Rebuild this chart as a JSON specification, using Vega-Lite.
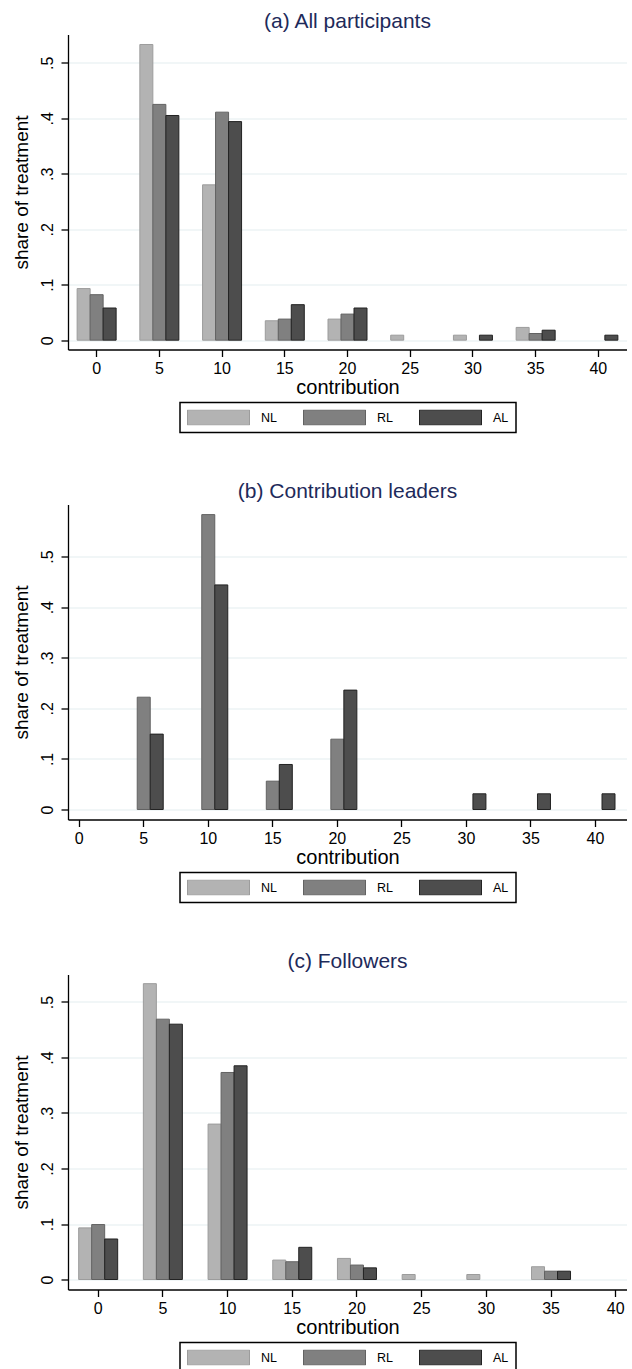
{
  "$schema": "https://vega.github.io/schema/vega-lite/v6.json",
  "background": "white",
  "padding": {"left": 11, "top": 10.5, "right": 0, "bottom": 0},
  "spacing": 47,
  "data": {"values": [
    {"panel":"a","contribution":0,"treatment":"NL","share":0.093},
    {"panel":"a","contribution":5,"treatment":"NL","share":0.533},
    {"panel":"a","contribution":10,"treatment":"NL","share":0.280},
    {"panel":"a","contribution":15,"treatment":"NL","share":0.035},
    {"panel":"a","contribution":20,"treatment":"NL","share":0.038},
    {"panel":"a","contribution":25,"treatment":"NL","share":0.009},
    {"panel":"a","contribution":30,"treatment":"NL","share":0.009},
    {"panel":"a","contribution":35,"treatment":"NL","share":0.023},
    {"panel":"a","contribution":0,"treatment":"RL","share":0.082},
    {"panel":"a","contribution":5,"treatment":"RL","share":0.425},
    {"panel":"a","contribution":10,"treatment":"RL","share":0.411},
    {"panel":"a","contribution":15,"treatment":"RL","share":0.038},
    {"panel":"a","contribution":20,"treatment":"RL","share":0.047},
    {"panel":"a","contribution":35,"treatment":"RL","share":0.012},
    {"panel":"a","contribution":0,"treatment":"AL","share":0.058},
    {"panel":"a","contribution":5,"treatment":"AL","share":0.405},
    {"panel":"a","contribution":10,"treatment":"AL","share":0.394},
    {"panel":"a","contribution":15,"treatment":"AL","share":0.064},
    {"panel":"a","contribution":20,"treatment":"AL","share":0.058},
    {"panel":"a","contribution":30,"treatment":"AL","share":0.009},
    {"panel":"a","contribution":35,"treatment":"AL","share":0.018},
    {"panel":"a","contribution":40,"treatment":"AL","share":0.009},
    {"panel":"b","contribution":5,"treatment":"RL","share":0.222},
    {"panel":"b","contribution":10,"treatment":"RL","share":0.583},
    {"panel":"b","contribution":15,"treatment":"RL","share":0.056},
    {"panel":"b","contribution":20,"treatment":"RL","share":0.139},
    {"panel":"b","contribution":5,"treatment":"AL","share":0.149},
    {"panel":"b","contribution":10,"treatment":"AL","share":0.444},
    {"panel":"b","contribution":15,"treatment":"AL","share":0.089},
    {"panel":"b","contribution":20,"treatment":"AL","share":0.236},
    {"panel":"b","contribution":30,"treatment":"AL","share":0.031},
    {"panel":"b","contribution":35,"treatment":"AL","share":0.031},
    {"panel":"b","contribution":40,"treatment":"AL","share":0.031},
    {"panel":"c","contribution":0,"treatment":"NL","share":0.093},
    {"panel":"c","contribution":5,"treatment":"NL","share":0.533},
    {"panel":"c","contribution":10,"treatment":"NL","share":0.280},
    {"panel":"c","contribution":15,"treatment":"NL","share":0.035},
    {"panel":"c","contribution":20,"treatment":"NL","share":0.038},
    {"panel":"c","contribution":25,"treatment":"NL","share":0.009},
    {"panel":"c","contribution":30,"treatment":"NL","share":0.009},
    {"panel":"c","contribution":35,"treatment":"NL","share":0.023},
    {"panel":"c","contribution":0,"treatment":"RL","share":0.099},
    {"panel":"c","contribution":5,"treatment":"RL","share":0.469},
    {"panel":"c","contribution":10,"treatment":"RL","share":0.373},
    {"panel":"c","contribution":15,"treatment":"RL","share":0.032},
    {"panel":"c","contribution":20,"treatment":"RL","share":0.026},
    {"panel":"c","contribution":35,"treatment":"RL","share":0.015},
    {"panel":"c","contribution":0,"treatment":"AL","share":0.073},
    {"panel":"c","contribution":5,"treatment":"AL","share":0.460},
    {"panel":"c","contribution":10,"treatment":"AL","share":0.385},
    {"panel":"c","contribution":15,"treatment":"AL","share":0.058},
    {"panel":"c","contribution":20,"treatment":"AL","share":0.021},
    {"panel":"c","contribution":35,"treatment":"AL","share":0.015}
  ]},
  "resolve": {"scale": {"fill": "independent", "stroke": "independent"}, "legend": {"fill": "independent", "stroke": "independent"}},
  "vconcat": [
    {
      "title": "(a) All participants",
      "width": 559, "height": 315,
      "transform": [{"filter": "datum.panel == 'a'"}],
      "mark": {"type": "bar", "strokeWidth": 1},
      "encoding": {
        "x": {"field": "contribution", "type": "ordinal", "scale": {"domain": [0,5,10,15,20,25,30,35,40], "paddingInner": 0.7928, "paddingOuter": 0.353, "align": 0.5}, "axis": {"title": "contribution"}},
        "xOffset": {"field": "treatment", "type": "nominal", "scale": {"domain": ["NL","RL","AL"], "range": [-13, 26]}},
        "y": {"field": "share", "type": "quantitative", "stack": null, "scale": {"domain": [-0.0168, 0.551], "nice": false, "zero": false}, "axis": {"values": [0,0.1,0.2,0.3,0.4,0.5], "title": "share of treatment"}},
        "fill": {"field": "treatment", "type": "nominal", "scale": {"domain": ["NL","RL","AL"], "range": ["#b3b3b3","#808080","#4d4d4d"]}, "legend": {"title": null}},
        "stroke": {"field": "treatment", "type": "nominal", "scale": {"domain": ["NL","RL","AL"], "range": ["#9c9c9c","#626262","#222222"]}, "legend": {"title": null}}
      }
    },
    {
      "title": "(b) Contribution leaders",
      "width": 559, "height": 315,
      "transform": [{"filter": "datum.panel == 'b'"}],
      "mark": {"type": "bar", "strokeWidth": 1},
      "encoding": {
        "x": {"field": "contribution", "type": "ordinal", "scale": {"domain": [0,5,10,15,20,25,30,35,40], "paddingInner": 0.7987, "paddingOuter": 0.23, "align": 0.158}, "axis": {"title": "contribution"}},
        "xOffset": {"field": "treatment", "type": "nominal", "scale": {"domain": ["NL","RL","AL"], "range": [-13, 26]}},
        "y": {"field": "share", "type": "quantitative", "stack": null, "scale": {"domain": [-0.0198, 0.603], "nice": false, "zero": false}, "axis": {"values": [0,0.1,0.2,0.3,0.4,0.5], "title": "share of treatment"}},
        "fill": {"field": "treatment", "type": "nominal", "scale": {"domain": ["NL","RL","AL"], "range": ["#b3b3b3","#808080","#4d4d4d"]}, "legend": {"title": null}},
        "stroke": {"field": "treatment", "type": "nominal", "scale": {"domain": ["NL","RL","AL"], "range": ["#9c9c9c","#626262","#222222"]}, "legend": {"title": null}}
      }
    },
    {
      "title": "(c) Followers",
      "width": 559, "height": 315,
      "transform": [{"filter": "datum.panel == 'c'"}],
      "mark": {"type": "bar", "strokeWidth": 1},
      "encoding": {
        "x": {"field": "contribution", "type": "ordinal", "scale": {"domain": [0,5,10,15,20,25,30,35,40], "paddingInner": 0.7991, "paddingOuter": 0.22, "align": 0.832}, "axis": {"title": "contribution"}},
        "xOffset": {"field": "treatment", "type": "nominal", "scale": {"domain": ["NL","RL","AL"], "range": [-13, 26]}},
        "y": {"field": "share", "type": "quantitative", "stack": null, "scale": {"domain": [-0.018, 0.5495], "nice": false, "zero": false}, "axis": {"values": [0,0.1,0.2,0.3,0.4,0.5], "title": "share of treatment"}},
        "fill": {"field": "treatment", "type": "nominal", "scale": {"domain": ["NL","RL","AL"], "range": ["#b3b3b3","#808080","#4d4d4d"]}, "legend": {"title": null}},
        "stroke": {"field": "treatment", "type": "nominal", "scale": {"domain": ["NL","RL","AL"], "range": ["#9c9c9c","#626262","#222222"]}, "legend": {"title": null}}
      }
    }
  ],
  "config": {
    "view": {"stroke": null},
    "font": "Liberation Sans",
    "axis": {"domainColor": "black", "tickColor": "black", "labelColor": "black", "titleColor": "black", "labelFontSize": 16, "titleFontSize": 19, "titleFontWeight": "normal", "tickSize": 7, "domainWidth": 1.3, "tickWidth": 1.3, "labelFont": "Liberation Sans", "titleFont": "Liberation Sans", "labelFlush": false},
    "axisX": {"grid": false, "labelAngle": 0, "labelPadding": 4, "titlePadding": 1, "titleFontSize": 20},
    "axisY": {"grid": true, "gridColor": "#e4edf0", "gridWidth": 1.2, "labelAngle": -90, "labelPadding": 6, "titlePadding": 8, "labelExpr": "datum.value == 0 ? '0' : replace(format(datum.value, '.1f'), '0.', '.')"},
    "title": {"fontSize": 21, "fontWeight": "normal", "color": "#1e2a5a", "font": "Liberation Sans", "offset": 3, "anchor": "middle"},
    "legend": {
      "orient": "bottom", "direction": "horizontal", "strokeColor": "black", "strokeWidth": 1.5, "padding": 7,
      "symbolType": "M-1,-0.25H1V0.25H-1Z", "symbolSize": 3844, "clipHeight": 15.5, "symbolStrokeWidth": 1,
      "labelFontSize": 12.5, "labelColor": "black", "labelFont": "Liberation Sans", "labelOffset": 11, "columnPadding": 26, "offset": 5,
      "layout": {"bottom": {"anchor": "middle"}}
    }
  }
}
